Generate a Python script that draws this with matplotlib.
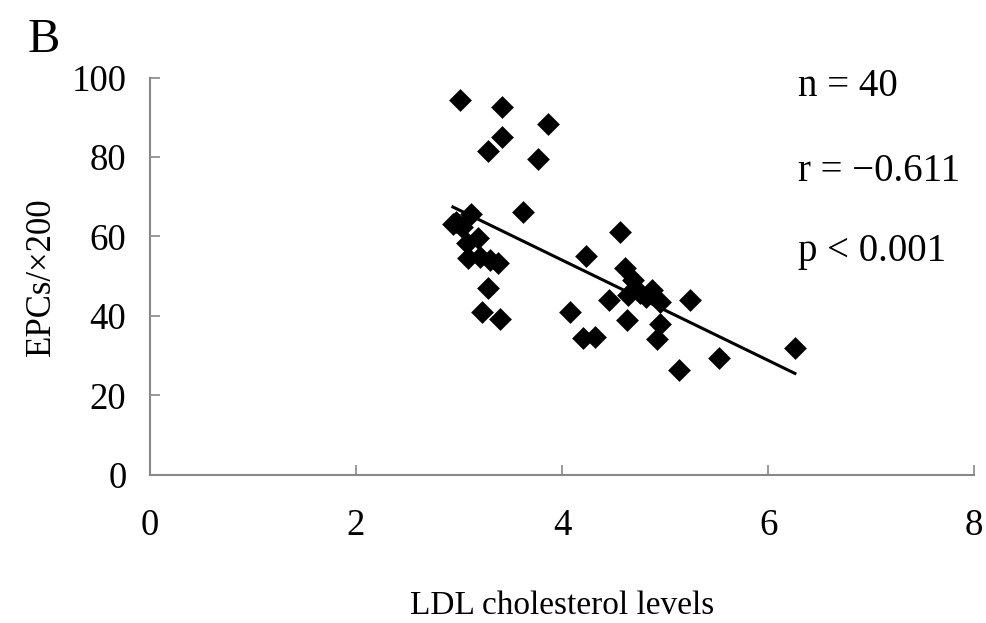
import matplotlib
matplotlib.use("Agg")
import matplotlib.pyplot as plt
import numpy as np

plt.rcParams['font.family'] = ['Liberation Serif', 'DejaVu Serif']

ldl = [3.01, 3.42, 3.42, 3.28, 3.86, 3.77, 3.62, 3.12, 2.94, 3.03,
       3.18, 3.08, 3.09, 3.20, 3.30, 3.38, 3.28, 3.22, 3.40, 4.56,
       4.23, 4.61, 4.69, 4.46, 4.64, 4.76, 4.87, 4.95, 5.24, 4.08,
       4.63, 4.95, 4.92, 4.20, 4.32, 5.52, 5.13, 6.26, 2.97, 4.81]
epcs = [94.3, 92.6, 85.0, 81.5, 88.3, 79.5, 66.2, 65.7, 63.1, 62.4,
        59.6, 58.4, 54.6, 54.8, 54.1, 53.3, 47.0, 41.0, 39.2, 61.1,
        55.1, 52.1, 49.1, 44.0, 45.3, 45.8, 46.5, 43.5, 44.0, 41.0,
        39.0, 38.0, 34.2, 34.5, 34.7, 29.4, 26.4, 31.9, 63.6, 44.8]
xticks = [0, 2, 4, 6, 8]
yticks = [0, 20, 40, 60, 80, 100]
stats = ["n = 40", "r = \u22120.611", "p < 0.001"]

fig = plt.figure(figsize=(9.87, 6.23), dpi=100)
ax = fig.add_axes([0.152, 0.2376, 0.835, 0.638])

x = np.array(ldl)
y = np.array(epcs)
ax.scatter(x, y, marker='D', s=135, color='black', zorder=3, linewidths=0)
k, b = np.polyfit(x, y, 1)
xs = np.array([x.min(), x.max()])
ax.plot(xs, k * xs + b, color='black', lw=2.2, zorder=2)

ax.set_xlim(0, 8)
ax.set_ylim(0, 100)
ax.set_xticks(xticks)
ax.set_yticks(yticks)
ax.tick_params(direction='in', length=7, width=1.2, color='#888888',
               labelsize=26.5)
ax.tick_params(axis='y', pad=17)
ax.tick_params(axis='x', pad=24)
for s in ['top', 'right']:
    ax.spines[s].set_visible(False)
for s in ['left', 'bottom']:
    ax.spines[s].set_color('#888888')
    ax.spines[s].set_linewidth(1.5)

ax.set_xlabel("LDL cholesterol levels", fontsize=24, labelpad=34)
ax.set_ylabel("EPCs/\u00d7200", fontsize=25, labelpad=10)

for txt, yy in zip(stats, [95.3, 74.0, 53.8]):
    ax.text(6.29, yy, txt, fontsize=28, va='baseline', ha='left')

fig.text(0.028, 0.935, "B", fontsize=35, va='center', ha='left')

fig.savefig("out.png", dpi=100)
